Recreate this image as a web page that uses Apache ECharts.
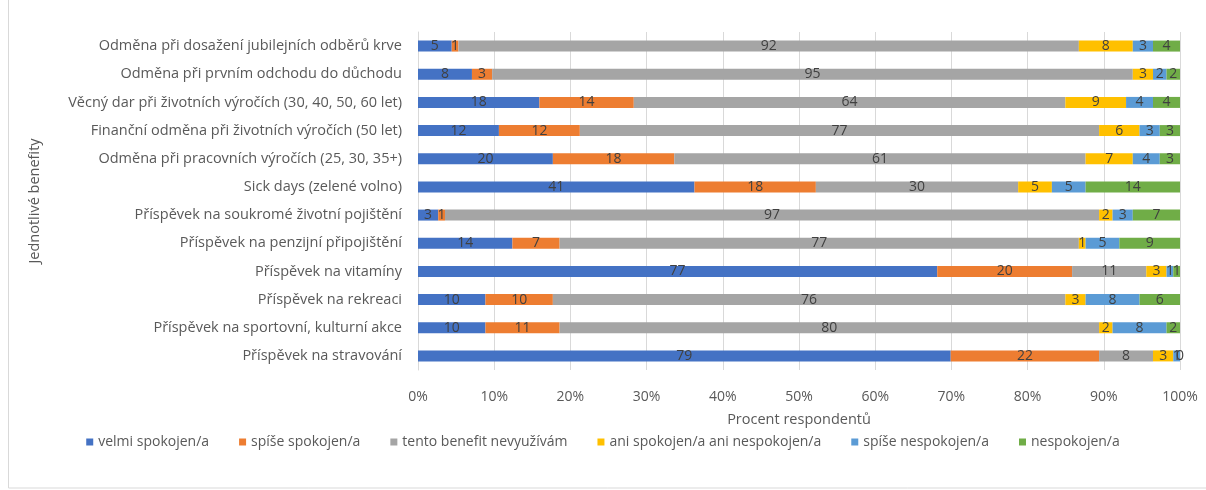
<!DOCTYPE html>
<html>
<head>
<meta charset="utf-8">
<script src="https://cdn.jsdelivr.net/npm/echarts@6/dist/echarts.min.js"></script>
<style>
	html,body{margin:0;padding:0;background:#fff;}
	#chart{width:1206px;height:490px;}
</style>
</head>
<body>
<div id="chart"></div>
<script>
/*kategorie (odshora dolů)*/
var categories = [
	'Odměna při dosažení jubilejních odběrů krve',
	'Odměna při prvním odchodu do důchodu',
	'Věcný dar při životních výročích (30, 40, 50, 60 let)',
	'Finanční odměna při životních výročích (50 let)',
	'Odměna při pracovních výročích (25, 30, 35+)',
	'Sick days (zelené volno)',
	'Příspěvek na soukromé životní pojištění',
	'Příspěvek na penzijní připojištění',
	'Příspěvek na vitamíny',
	'Příspěvek na rekreaci',
	'Příspěvek na sportovní, kulturní akce',
	'Příspěvek na stravování'
];
var seriesNames = ['velmi spokojen/a', 'spíše spokojen/a', 'tento benefit nevyužívám',
	'ani spokojen/a ani nespokojen/a', 'spíše nespokojen/a', 'nespokojen/a'];
var colors = ['#4472C4', '#ED7D31', '#A5A5A5', '#FFC000', '#5B9BD5', '#70AD47'];

/*počty respondentů*/
var velmiSpokojen   = [5, 8, 18, 12, 20, 41, 3, 14, 77, 10, 10, 79];
var spiseSpokojen   = [1, 3, 14, 12, 18, 18, 1, 7, 20, 10, 11, 22];
var nevyuzivam      = [92, 95, 64, 77, 61, 30, 97, 77, 11, 76, 80, 8];
var aniAni          = [8, 3, 9, 6, 7, 5, 2, 1, 3, 3, 2, 3];
var spiseNespokojen = [3, 2, 4, 3, 4, 5, 3, 5, 1, 8, 8, 1];
var nespokojen      = [4, 2, 4, 3, 3, 14, 7, 9, 1, 6, 2, 0];
var xTicks = ['0%', '10%', '20%', '30%', '40%', '50%', '60%', '70%', '80%', '90%', '100%'];

function buildChart(){
	var chart = echarts.init(document.getElementById('chart'));
	var raw = [velmiSpokojen, spiseSpokojen, nevyuzivam, aniAni, spiseNespokojen, nespokojen];
	/*součty za řádek -> 100 %*/
	var totals = categories.map(function(c, i){
		var s = 0;
		raw.forEach(function(r){ s += r[i]; });
		return s;
	});
	var font = 'Open Sans';
	var series = raw.map(function(arr, k){
		return {
			name : seriesNames[k],
			type : 'bar',
			stack : 'total',
			barWidth : 11,
			itemStyle : { color : colors[k] },
			label : {
				show : true,
				position : 'inside',
				color : '#404040',
				fontFamily : font,
				fontSize : 14,
				formatter : function(p){ return arr[p.dataIndex]; }
			},
			data : arr.map(function(v, i){ return v / totals[i] * 100; })
		};
	});
	var option = {
		animation : false,
		color : colors,
		textStyle : { fontFamily : font },
		grid : {
			left : 418,
			right : 26,
			top : 32,
			bottom : 120
		},
		legend : {
			bottom : 36,
			left : 'center',
			itemWidth : 7,
			itemHeight : 7,
			itemGap : 30,
			icon : 'rect',
			textStyle : { color : '#595959', fontSize : 14, fontFamily : font },
			data : seriesNames
		},
		xAxis : {
			type : 'value',
			min : 0,
			max : 100,
			interval : 10,
			name : 'Procent respondentů',
			nameLocation : 'middle',
			nameGap : 42,
			nameTextStyle : { color : '#595959', fontSize : 14.5 },
			axisLine : { show : false },
			axisTick : { show : false },
			axisLabel : {
				color : '#595959',
				fontSize : 14,
				margin : 20,
				formatter : function(v){ return xTicks[Math.round(v / 10)]; }
			},
			splitLine : { lineStyle : { color : '#d9d9d9' } }
		},
		yAxis : {
			type : 'category',
			inverse : true,
			data : categories,
			name : 'Jednotlivé benefity',
			nameLocation : 'middle',
			nameGap : 376,
			nameRotate : 90,
			nameTextStyle : { color : '#595959', fontSize : 14.5 },
			axisLine : { show : true, lineStyle : { color : '#d9d9d9' } },
			axisTick : { show : false },
			axisLabel : { color : '#595959', fontSize : 14.5, margin : 16 }
		},
		graphic : [{
			type : 'rect',
			shape : { x : 8.5, y : -2, width : 1210, height : 490 },
			style : { fill : 'none', stroke : '#d9d9d9', lineWidth : 1 },
			silent : true
		}],
		series : series
	};
	chart.setOption(option);
}
buildChart();
</script>
</body>
</html>
